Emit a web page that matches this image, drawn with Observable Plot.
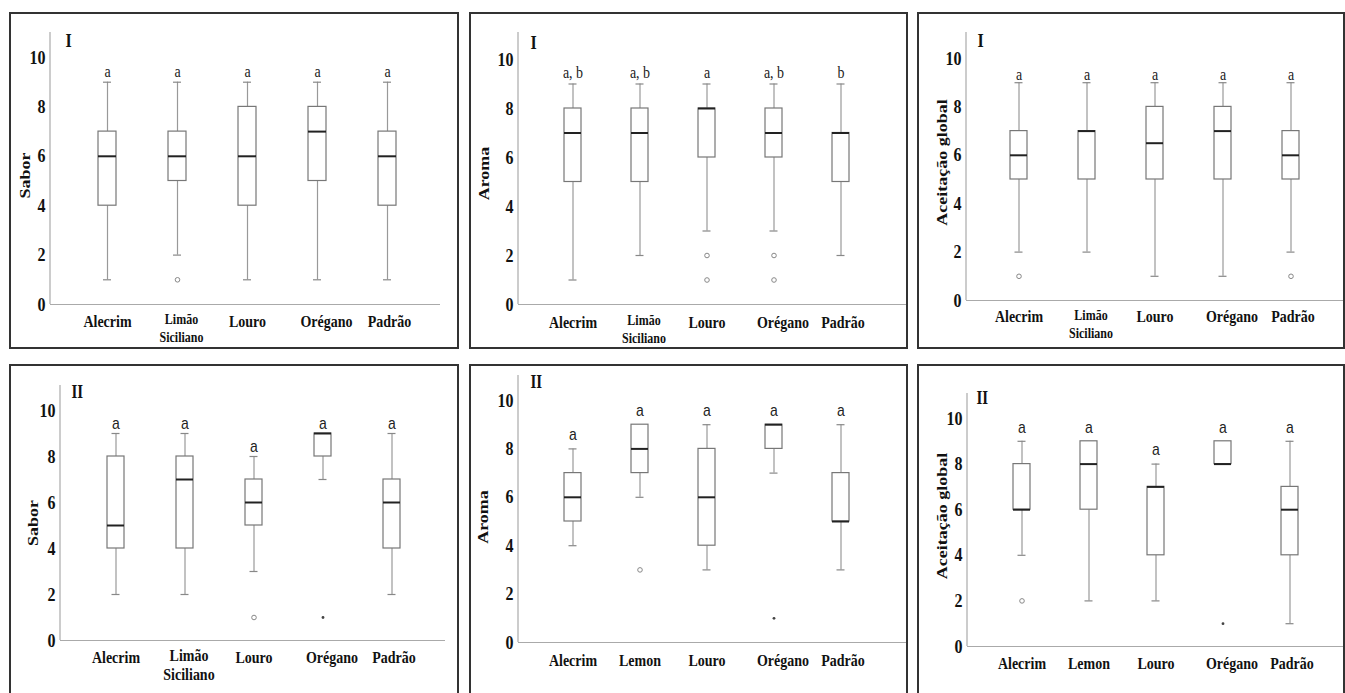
<!DOCTYPE html>
<html>
<head>
<meta charset="utf-8">
<script src="https://cdn.jsdelivr.net/npm/d3@7"></script>
<script src="https://cdn.jsdelivr.net/npm/@observablehq/plot@0.6"></script>
<style>
  body { margin: 0; background: #fff; }
  #root { position: relative; width: 1345px; height: 693px; overflow: hidden; background: #fff; }
  .border { position: absolute; border: 2px solid #333; box-sizing: border-box; }
  .plot { position: absolute; }
</style>
</head>
<body>
<div id="root"></div>
<script>
// ---------------- DATA ----------------
const categoriesI = ["Alecrim", "Limão Siciliano", "Louro", "Orégano", "Padrão"];
const categoriesIISabor = ["Alecrim", "Limão Siciliano", "Louro", "Orégano", "Padrão"];
const categoriesIILemon = ["Alecrim", "Lemon", "Louro", "Orégano", "Padrão"];
const yTicks = [0, 2, 4, 6, 8, 10];

// Sabor I
const saborI_min = [1, 2, 1, 1, 1];
const saborI_q1 = [4, 5, 4, 5, 4];
const saborI_median = [6, 6, 6, 7, 6];
const saborI_q3 = [7, 7, 8, 8, 7];
const saborI_max = [9, 9, 9, 9, 9];
const saborI_letters = ["a", "a", "a", "a", "a"];
const saborI_outliers = [["Limão Siciliano", 1]];
const saborI_extremes = [];

// Aroma I
const aromaI_min = [1, 2, 3, 3, 2];
const aromaI_q1 = [5, 5, 6, 6, 5];
const aromaI_median = [7, 7, 8, 7, 7];
const aromaI_q3 = [8, 8, 8, 8, 7];
const aromaI_max = [9, 9, 9, 9, 9];
const aromaI_letters = ["a, b", "a, b", "a", "a, b", "b"];
const aromaI_outliers = [["Louro", 2], ["Louro", 1], ["Orégano", 2], ["Orégano", 1]];
const aromaI_extremes = [];

// Aceitação global I
const aceitI_min = [2, 2, 1, 1, 2];
const aceitI_q1 = [5, 5, 5, 5, 5];
const aceitI_median = [6, 7, 6.5, 7, 6];
const aceitI_q3 = [7, 7, 8, 8, 7];
const aceitI_max = [9, 9, 9, 9, 9];
const aceitI_letters = ["a", "a", "a", "a", "a"];
const aceitI_outliers = [["Alecrim", 1], ["Padrão", 1]];
const aceitI_extremes = [];

// Sabor II
const saborII_min = [2, 2, 3, 7, 2];
const saborII_q1 = [4, 4, 5, 8, 4];
const saborII_median = [5, 7, 6, 9, 6];
const saborII_q3 = [8, 8, 7, 9, 7];
const saborII_max = [9, 9, 8, 9, 9];
const saborII_letters = ["a", "a", "a", "a", "a"];
const saborII_outliers = [["Louro", 1]];
const saborII_extremes = [["Orégano", 1]];

// Aroma II
const aromaII_min = [4, 6, 3, 7, 3];
const aromaII_q1 = [5, 7, 4, 8, 5];
const aromaII_median = [6, 8, 6, 9, 5];
const aromaII_q3 = [7, 9, 8, 9, 7];
const aromaII_max = [8, 9, 9, 9, 9];
const aromaII_letters = ["a", "a", "a", "a", "a"];
const aromaII_outliers = [["Lemon", 3]];
const aromaII_extremes = [["Orégano", 1]];

// Aceitação global II
const aceitII_min = [4, 2, 2, 8, 1];
const aceitII_q1 = [6, 6, 4, 8, 4];
const aceitII_median = [6, 8, 7, 8, 6];
const aceitII_q3 = [8, 9, 7, 9, 7];
const aceitII_max = [9, 9, 8, 9, 9];
const aceitII_letters = ["a", "a", "a", "a", "a"];
const aceitII_outliers = [["Alecrim", 2]];
const aceitII_extremes = [["Orégano", 1]];

// ---------------- STYLE / LAYOUT ----------------
const SERIF = "'Liberation Serif', 'Times New Roman', serif";
const SANS = "'Liberation Sans', Arial, sans-serif";
const STRETCH = 1.2; // vertical stretch of the original raster text
const labelText = {"Limão Siciliano": "Limão\nSiciliano"};
const labelShift = {"Limão Siciliano": 4, "Orégano": 9, "Padrão": 2};

const panels = [
  {cats: categoriesI, min: saborI_min, q1: saborI_q1, med: saborI_median, q3: saborI_q3, max: saborI_max,
   letters: saborI_letters, outliers: saborI_outliers, extremes: saborI_extremes, ylabel: "Sabor", roman: "I",
   L: {l: 9, t: 12, w: 450, h: 337, axis: 50, right: 440, top: 32, y0: 304, unit: 24.7, first: 106, last: 387, bw: 18,
       ylabDx: -25, ylabDy: 7, romanDx: 15, romanDy: 8, letterDy: -11, letterFont: SERIF, letterSize: 14,
       labelDy: 17, twoDy: 23, twoSize: 12, twoLH: 1.25}},
  {cats: categoriesI, min: aromaI_min, q1: aromaI_q1, med: aromaI_median, q3: aromaI_q3, max: aromaI_max,
   letters: aromaI_letters, outliers: aromaI_outliers, extremes: aromaI_extremes, ylabel: "Aroma", roman: "I",
   L: {l: 469, t: 12, w: 439, h: 337, axis: 518, right: 906, top: 32, y0: 304, unit: 24.5, first: 572, last: 842, bw: 17,
       ylabDx: -34, ylabDy: 5, romanDx: 12, romanDy: 10, letterDy: -11, letterFont: SERIF, letterSize: 14,
       labelDy: 18, twoDy: 24, twoSize: 12, twoLH: 1.25}},
  {cats: categoriesI, min: aceitI_min, q1: aceitI_q1, med: aceitI_median, q3: aceitI_q3, max: aceitI_max,
   letters: aceitI_letters, outliers: aceitI_outliers, extremes: aceitI_extremes, ylabel: "Aceitação global", roman: "I",
   L: {l: 917, t: 12, w: 428, h: 337, axis: 966, right: 1343, top: 32, y0: 300, unit: 24.2, first: 1018, last: 1290, bw: 17,
       ylabDx: -24, ylabDy: -4, romanDx: 11, romanDy: 8, letterDy: -8, letterFont: SERIF, letterSize: 14,
       labelDy: 16, twoDy: 23, twoSize: 12, twoLH: 1.25}},
  {cats: categoriesIISabor, min: saborII_min, q1: saborII_q1, med: saborII_median, q3: saborII_q3, max: saborII_max,
   letters: saborII_letters, outliers: saborII_outliers, extremes: saborII_extremes, ylabel: "Sabor", roman: "II",
   L: {l: 9, t: 364, w: 450, h: 340, axis: 60, right: 445, top: 385, y0: 640, unit: 23, first: 115, last: 391, bw: 17,
       ylabDx: -27, ylabDy: 10, romanDx: 11, romanDy: 7, letterDy: -10, letterFont: SANS, letterSize: 14,
       labelDy: 17, twoDy: 23.5, twoSize: 14, twoLH: 1.13}},
  {cats: categoriesIILemon, min: aromaII_min, q1: aromaII_q1, med: aromaII_median, q3: aromaII_q3, max: aromaII_max,
   letters: aromaII_letters, outliers: aromaII_outliers, extremes: aromaII_extremes, ylabel: "Aroma", roman: "II",
   L: {l: 469, t: 364, w: 439, h: 340, axis: 518, right: 906, top: 375, y0: 642, unit: 24.2, first: 571, last: 842, bw: 17,
       ylabDx: -35, ylabDy: 8, romanDx: 12, romanDy: 7, letterDy: -14, letterFont: SANS, letterSize: 14,
       labelDy: 18, twoDy: 24, twoSize: 14, twoLH: 1.13}},
  {cats: categoriesIILemon, min: aceitII_min, q1: aceitII_q1, med: aceitII_median, q3: aceitII_q3, max: aceitII_max,
   letters: aceitII_letters, outliers: aceitII_outliers, extremes: aceitII_extremes, ylabel: "Aceitação global", roman: "II",
   L: {l: 917, t: 364, w: 428, h: 340, axis: 967, right: 1343, top: 393, y0: 646, unit: 22.8, first: 1020, last: 1291, bw: 17,
       ylabDx: -25, ylabDy: -4, romanDx: 9, romanDy: 5, letterDy: -14, letterFont: SANS, letterSize: 14,
       labelDy: 17, twoDy: 24, twoSize: 14, twoLH: 1.13}}
];

const root = document.getElementById("root");

function drawPanel(p) {
  const L = p.L;
  const n = p.cats.length;
  const rows = p.cats.map((c, i) => ({cat: c, min: p.min[i], q1: p.q1[i], med: p.med[i], q3: p.q3[i], max: p.max[i], letter: p.letters[i]}));

  // band scale geometry
  const W = L.right - L.axis;
  const step = (L.last - L.first) / (n - 1);
  const pi = 1 - L.bw / step;
  const po = (W / step - n + pi) / 2;
  const align = (L.first - L.bw / 2 - L.axis) / (W - step * (n - pi));
  const ymax = (L.y0 - L.top) / L.unit;
  const capInset = (L.bw - 8) / 2;

  const labelMarks = p.cats.map(c => {
    const two = labelText[c] !== undefined;
    return Plot.text([c], {
      x: d => d, text: d => labelText[d] ?? d,
      frameAnchor: "bottom", dy: two ? L.twoDy : L.labelDy, dx: labelShift[c] || 0,
      textAnchor: "middle", lineAnchor: "middle", lineHeight: two ? L.twoLH : 1,
      fontFamily: SERIF, fontWeight: "bold", fontSize: two ? L.twoSize : 14, fill: "#111"
    });
  });

  const svg = Plot.plot({
    width: L.w, height: L.h,
    marginLeft: L.axis - L.l, marginRight: L.l + L.w - L.right,
    marginTop: L.top - L.t, marginBottom: L.t + L.h - L.y0,
    x: {domain: p.cats, paddingInner: pi, paddingOuter: po, align, axis: null},
    y: {domain: [0, ymax], axis: null},
    style: {background: "transparent", overflow: "visible"},
    marks: [
      Plot.ruleY([0], {stroke: "#aaa", strokeWidth: 1.2}),
      // whiskers
      Plot.ruleX(rows, {x: "cat", y1: "min", y2: "q1", stroke: "#999", strokeWidth: 1.2}),
      Plot.ruleX(rows, {x: "cat", y1: "q3", y2: "max", stroke: "#999", strokeWidth: 1.2}),
      Plot.tickY(rows.filter(d => d.min < d.q1), {x: "cat", y: "min", insetLeft: capInset, insetRight: capInset, stroke: "#888", strokeWidth: 1.2}),
      Plot.tickY(rows.filter(d => d.max > d.q3), {x: "cat", y: "max", insetLeft: capInset, insetRight: capInset, stroke: "#888", strokeWidth: 1.2}),
      // boxes
      Plot.barY(rows, {x: "cat", y1: "q1", y2: "q3", fill: "white", stroke: "#777", strokeWidth: 1.2}),
      Plot.tickY(rows, {x: "cat", y: "med", stroke: "#222", strokeWidth: 2}),
      // outliers
      Plot.dot(p.outliers, {x: d => d[0], y: d => d[1], r: 2.3, stroke: "#888", fill: "white", strokeWidth: 1}),
      Plot.dot(p.extremes, {x: d => d[0], y: d => d[1], r: 1.4, fill: "#444", stroke: "none"}),
      // significance letters
      Plot.text(rows, {x: "cat", y: "max", text: "letter", dy: L.letterDy, lineAnchor: "middle",
        fontFamily: L.letterFont, fontSize: L.letterSize, fill: "#222"}),
      // y tick labels
      Plot.text(yTicks, {y: d => d, text: d => String(d), frameAnchor: "left", textAnchor: "end", dx: -5,
        lineAnchor: "middle", fontFamily: SERIF, fontWeight: "bold", fontSize: 16, fill: "#111"}),
      // y label
      Plot.text([p.ylabel], {text: d => d, frameAnchor: "left", textAnchor: "middle", lineAnchor: "middle",
        rotate: -90, dx: L.ylabDx, dy: L.ylabDy,
        fontFamily: SERIF, fontWeight: "bold", fontSize: 15, fill: "#111"}),
      // panel numeral
      Plot.text([p.roman], {text: d => d, frameAnchor: "top-left", textAnchor: "start", lineAnchor: "middle",
        dx: L.romanDx, dy: L.romanDy, fontFamily: SERIF, fontWeight: "bold", fontSize: p.roman === "I" ? 16 : 15, fill: "#111"}),
      ...labelMarks
    ]
  });

  // y axis line
  d3.select(svg).append("line")
    .attr("x1", L.axis - L.l).attr("x2", L.axis - L.l)
    .attr("y1", L.top - L.t).attr("y2", L.y0 - L.t)
    .attr("stroke", "#aaa").attr("stroke-width", 1.2);

  // vertical stretch of text, as in the original picture
  d3.select(svg).selectAll("text").each(function() {
    let t = this.getAttribute("transform");
    if (!t) {
      const x = +this.getAttribute("x") || 0, y = +this.getAttribute("y") || 0;
      t = `translate(${x},${y})`;
      this.setAttribute("transform", `${t} scale(1,${STRETCH}) translate(${-x},${-y})`);
      return;
    }
    const rot = /rotate/.test(t);
    this.setAttribute("transform", t + (rot ? ` scale(${STRETCH},1)` : ` scale(1,${STRETCH})`));
  });

  svg.classList.add("plot");
  svg.style.left = L.l + "px";
  svg.style.top = L.t + "px";
  root.appendChild(svg);

  const border = document.createElement("div");
  border.className = "border";
  border.style.left = L.l + "px";
  border.style.top = L.t + "px";
  border.style.width = L.w + "px";
  border.style.height = L.h + "px";
  root.appendChild(border);
}

panels.forEach(drawPanel);
</script>
</body>
</html>
